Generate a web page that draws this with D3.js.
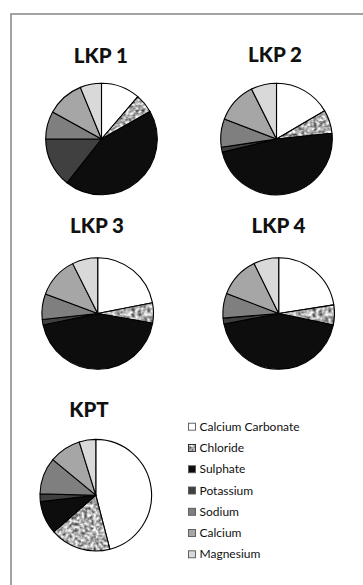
<!DOCTYPE html>
<html><head><meta charset="utf-8">
<script src="https://cdn.jsdelivr.net/npm/d3@7"></script>
<style>html,body{margin:0;padding:0;background:#fff;overflow:hidden}</style>
</head><body>
<script>
const categories = ["Calcium Carbonate","Chloride","Sulphate","Potassium","Sodium","Calcium","Magnesium"];
const sites = ["LKP 1","LKP 2","LKP 3","LKP 4","KPT"];
const lkp1 = [11.3, 5.5, 43.9, 14.4, 8.0, 10.8, 6.2];
const lkp2 = [16.6, 6.8, 47.9, 1.4, 8.2, 11.8, 7.4];
const lkp3 = [21.9, 5.9, 43.9, 1.6, 7.4, 11.9, 7.4];
const lkp4 = [22.6, 5.8, 43.8, 1.7, 7.2, 11.9, 7.3];
const kpt  = [45.9, 17.6, 9.6, 2.2, 10.6, 9.2, 4.8];
const seriesValues = [lkp1, lkp2, lkp3, lkp4, kpt];

const W = 363, H = 585;
const svg = d3.select("body").append("svg").attr("width", W).attr("height", H);
const defs = svg.append("defs");
const f = defs.append("filter").attr("id","noise").attr("x",0).attr("y",0).attr("width","100%").attr("height","100%")
  .attr("color-interpolation-filters","sRGB");
f.append("feTurbulence").attr("type","fractalNoise").attr("baseFrequency","0.32").attr("numOctaves",2).attr("seed",5).attr("result","t");
f.append("feColorMatrix").attr("in","t").attr("type","matrix")
  .attr("values","1.5 0 0 0 -0.06  1.5 0 0 0 -0.06  1.5 0 0 0 -0.06  0 0 0 0 1");
const pat = defs.append("pattern").attr("id","speck").attr("patternUnits","userSpaceOnUse").attr("width",80).attr("height",80);
pat.append("rect").attr("width",80).attr("height",80).attr("fill","#b0b0b0");
pat.append("rect").attr("width",80).attr("height",80).attr("filter","url(#noise)");

const colors = ["#ffffff","url(#speck)","#0d0d0d","#404040","#7f7f7f","#a6a6a6","#d9d9d9"];
const color = d3.scaleOrdinal().domain(categories).range(colors);

// frame
svg.append("rect").attr("x",11).attr("y",14).attr("width",400).attr("height",600)
  .attr("fill","none").attr("stroke","#8c8c8c").attr("stroke-width",1.6);

const layout = [
  {cx:101.5, cy:139, ty:62.5},
  {cx:276.5, cy:139, ty:62},
  {cx:97.7, cy:313.5, ty:233.3},
  {cx:278.7, cy:313.5, ty:233.3},
  {cx:95.8, cy:495.2, ty:416.7}
];
const titleX = [100.8, 275, 97, 278.5, 89];
const r = 55.8;
const pie = d3.pie().sort(null).value(d => d.v);
const arc = d3.arc().innerRadius(0).outerRadius(r);

seriesValues.forEach((vals, i) => {
  const L = layout[i];
  const g = svg.append("g").attr("transform", `translate(${L.cx},${L.cy})`);
  const data = pie(vals.map((v,k)=>({k:categories[k], v})));
  g.selectAll("path").data(data).join("path")
    .attr("d", arc).attr("fill", d => color(d.data.k))
    .attr("stroke","#000").attr("stroke-width",1.1).attr("stroke-linejoin","round");
  svg.append("text").attr("x", titleX[i]).attr("y", L.ty).attr("text-anchor","middle")
    .attr("font-family","Lato, 'Open Sans', sans-serif").attr("font-weight","900")
    .attr("font-size",20.5).attr("fill","#111").text(sites[i]);
});

// legend
const ly = d3.scalePoint().domain(categories).range([426.7, 554.3]);
const lg = svg.append("g");
categories.forEach(c => {
  const y = ly(c);
  lg.append("rect").attr("x",188.5).attr("y",y-3.5).attr("width",7).attr("height",7)
    .attr("fill", color(c)).attr("stroke", c==="Chloride" ? "#222" : "#555").attr("stroke-width",0.9);
  lg.append("text").attr("x",199.5).attr("y",y+4).attr("font-family","Lato, 'Open Sans', sans-serif")
    .attr("font-size",12).attr("fill","#111").text(c);
});
</script>
</body></html>
